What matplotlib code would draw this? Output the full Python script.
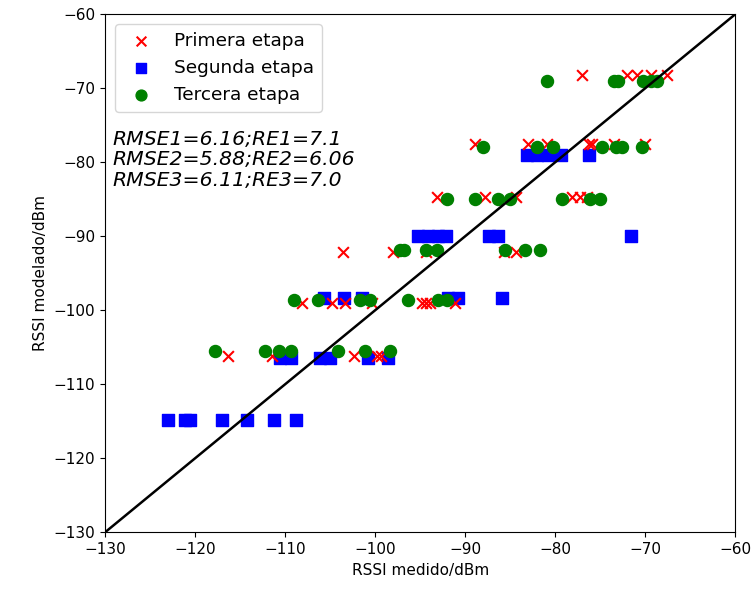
import numpy as np
import matplotlib
matplotlib.use('Agg')
import matplotlib.pyplot as plt

# Primera etapa (medido, modelado)
x1 = [-77.0, -72.0, -70.9, -69.4, -67.6,
      -88.9, -83.0, -80.9, -76.3, -75.9, -73.5, -70.0,
      -93.1, -87.8, -84.3, -78.1, -77.2, -76.5,
      -103.6, -98.0, -94.3, -85.7, -84.4,
      -108.1, -104.8, -103.3, -100.4, -94.8, -94.3, -93.9, -91.1,
      -116.4, -111.5, -102.4, -99.8, -99.4]
y1 = [-68.2] * 5 + [-77.6] * 7 + [-84.7] * 6 + [-92.1] * 5 + [-99.0] * 8 + [-106.2] * 5

# Segunda etapa
x2 = [-83.1, -82.0, -80.8, -79.4, -76.2,
      -95.2, -94.1, -93.0, -92.1, -87.4, -86.3, -71.6,
      -105.7, -103.5, -101.5, -91.9, -90.8, -85.9,
      -110.6, -109.4, -106.1, -105.0, -100.8, -98.6,
      -123.0, -121.1, -120.6, -117.0, -114.2, -111.2, -108.8]
y2 = [-79.0] * 5 + [-90.0] * 7 + [-98.4] * 6 + [-106.5] * 6 + [-114.8] * 7

# Tercera etapa
x3 = [-80.9, -73.5, -73.0, -70.2, -69.4, -68.7,
      -88.0, -82.0, -80.2, -74.8, -73.3, -72.6, -70.4,
      -92.0, -88.9, -86.4, -85.0, -79.3, -76.1, -75.0,
      -97.2, -96.8, -94.4, -93.1, -85.6, -83.3, -81.7,
      -109.0, -106.3, -101.7, -100.6, -96.3, -93.0, -92.0,
      -117.8, -112.2, -110.7, -109.3, -104.1, -101.1, -98.3]
y3 = [-69.0] * 6 + [-78.0] * 7 + [-85.0] * 7 + [-91.9] * 7 + [-98.6] * 7 + [-105.5] * 7

fig = plt.figure(figsize=(7.51, 5.94), dpi=100)
ax = fig.add_axes([0.14, 0.104, 0.839, 0.872])

ax.scatter(x1, y1, marker='x', color='red', s=60, label='Primera etapa', zorder=3)
ax.scatter(x2, y2, marker='s', color='blue', s=70, label='Segunda etapa', zorder=2)
ax.scatter(x3, y3, marker='o', color='green', s=75, label='Tercera etapa', zorder=4)
ax.plot([-130, -60], [-130, -60], color='black', linewidth=1.8, zorder=5)

ax.set_xlim(-130, -60)
ax.set_ylim(-130, -60)
ax.set_xlabel('RSSI medido/dBm', fontsize=11)
ax.set_ylabel('RSSI modelado/dBm', fontsize=11)
ax.tick_params(labelsize=11)

ax.legend(loc='upper left', fontsize=13.3, borderaxespad=0.55, markerscale=0.9)
ax.text(-129.2, -75.6, 'RMSE1=6.16;RE1=7.1\nRMSE2=5.88;RE2=6.06\nRMSE3=6.11;RE3=7.0',
        fontsize=14.7, fontstyle='italic', va='top', ha='left', linespacing=1.12)

plt.savefig('out.png', dpi=100)
